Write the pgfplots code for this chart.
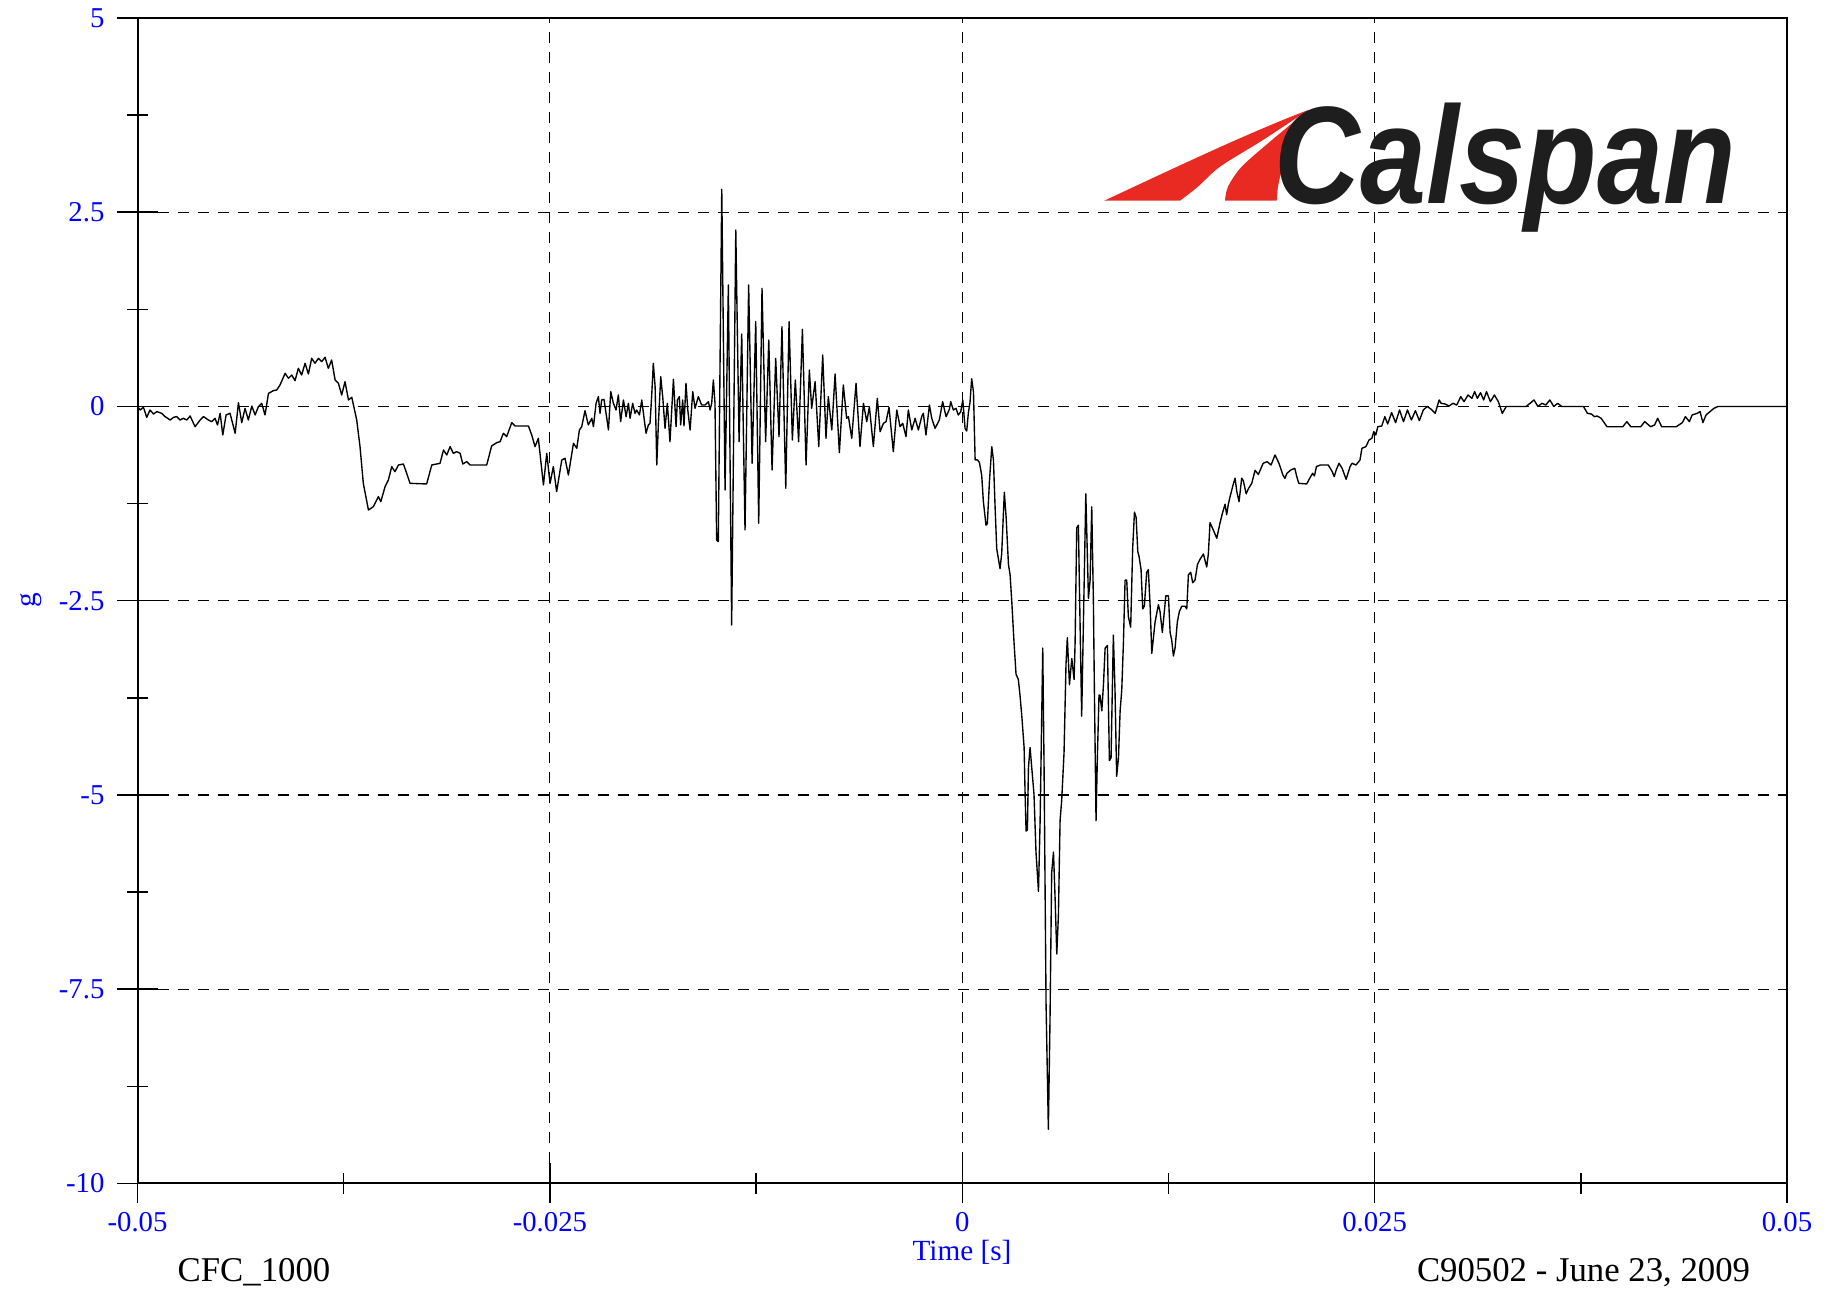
\documentclass[border=0pt]{standalone}
\usepackage{fontspec}
\setmainfont{Liberation Serif}
\newfontfamily\logofont{Liberation Sans}
\usepackage{pgfplots}
\pgfplotsset{compat=1.18}
\usepackage{pgfplotstable}
\definecolor{calred}{RGB}{232,42,34}
\definecolor{calblack}{RGB}{30,30,30}

% time in ms, acceleration in g
\pgfplotstableread{
t g
-50.00 0.00
-49.84 -0.045
-49.64 -0.01
-49.44 -0.14
-49.24 -0.045
-49.03 -0.097
-48.83 -0.066
-48.53 -0.088
-48.33 -0.13
-48.02 -0.174
-47.82 -0.14
-47.62 -0.13
-47.42 -0.174
-47.22 -0.152
-47.01 -0.174
-46.81 -0.122
-46.51 -0.26
-46.20 -0.174
-46.00 -0.13
-45.70 -0.174
-45.50 -0.195
-45.30 -0.152
-45.15 -0.238
-44.99 -0.088
-44.83 -0.367
-44.63 -0.109
-44.39 -0.088
-44.08 -0.345
-43.88 0.049
-43.68 -0.208
-43.48 -0.024
-43.28 -0.174
-43.07 0.006
-42.87 -0.109
-42.67 -0.002
-42.47 0.041
-42.27 -0.109
-42.06 0.169
-41.76 0.204
-41.56 0.212
-41.36 0.277
-41.05 0.427
-40.85 0.363
-40.65 0.405
-40.45 0.332
-40.25 0.491
-40.05 0.405
-39.84 0.556
-39.64 0.418
-39.44 0.62
-39.24 0.556
-39.03 0.62
-38.83 0.577
-38.63 0.633
-38.43 0.491
-38.23 0.598
-38.02 0.341
-37.82 0.298
-37.62 0.148
-37.42 0.32
-37.21 0.084
-37.01 0.118
-36.71 -0.174
-36.51 -0.517
-36.31 -0.989
-36.00 -1.332
-35.70 -1.289
-35.40 -1.16
-35.25 -1.224
-34.99 -1.031
-34.79 -0.946
-34.59 -0.774
-34.39 -0.839
-34.18 -0.753
-33.88 -0.74
-33.68 -0.86
-33.48 -0.989
-32.47 -0.997
-32.16 -0.753
-31.86 -0.74
-31.66 -0.732
-31.45 -0.56
-31.25 -0.624
-31.05 -0.517
-30.85 -0.603
-30.65 -0.581
-30.44 -0.603
-30.28 -0.74
-30.04 -0.71
-29.84 -0.753
-28.83 -0.753
-28.53 -0.508
-28.22 -0.465
-28.02 -0.453
-27.82 -0.345
-27.62 -0.388
-27.31 -0.208
-27.11 -0.251
-26.30 -0.251
-26.10 -0.367
-25.90 -0.517
-25.70 -0.41
-25.39 -1.01
-25.19 -0.603
-24.99 -0.989
-24.79 -0.774
-24.59 -1.096
-24.28 -0.689
-24.08 -0.667
-23.88 -0.882
-23.57 -0.474
-23.37 -0.538
-23.21 -0.302
-23.07 -0.26
-22.87 -0.054
-22.67 -0.238
-22.46 -0.152
-22.36 -0.26
-22.20 0.041
-22.06 0.127
-21.96 -0.088
-21.86 0.084
-21.72 0.092
-21.55 -0.152
-21.45 -0.302
-21.31 0.191
-21.15 0.041
-20.99 -0.045
-20.85 0.148
-20.71 -0.195
-20.54 0.084
-20.38 -0.131
-20.24 0.041
-20.14 -0.152
-19.98 0.041
-19.84 -0.088
-19.74 -0.045
-19.57 -0.109
-19.43 0.084
-19.29 -0.152
-19.17 -0.345
-19.03 -0.238
-18.93 -0.217
-18.83 0.127
-18.73 0.556
-18.62 0.255
-18.52 -0.753
-18.42 -0.217
-18.28 0.384
-18.16 0.127
-18.02 -0.281
-17.88 0.041
-17.72 -0.453
-17.51 0.35
-17.35 -0.26
-17.27 0.084
-17.15 0.127
-17.07 -0.238
-16.95 0.084
-16.87 -0.251
-16.75 0.298
-16.64 -0.045
-16.50 -0.302
-16.34 0.191
-16.20 -0.024
-16.00 0.127
-15.80 0.019
-15.59 0.019
-15.39 0.062
-15.29 -0.045
-15.19 0.041
-15.09 0.341
-14.99 0.041
-14.89 -1.718
-14.79 -1.739
-14.58 2.795
-14.38 -1.075
-14.18 1.564
-13.98 -2.812
-13.73 2.272
-13.53 -0.453
-13.37 0.933
-13.17 -1.589
-12.95 1.564
-12.74 -0.732
-12.52 1.092
-12.34 -1.503
-12.14 1.521
-11.92 -0.453
-11.73 0.856
-11.53 -0.818
-11.31 0.62
-11.11 -0.388
-10.93 1.027
-10.70 -1.053
-10.50 1.092
-10.30 -0.431
-10.12 0.341
-9.92 -0.453
-9.69 0.993
-9.47 -0.753
-9.27 0.47
-9.13 -0.024
-8.92 0.32
-8.70 -0.516
-8.46 0.663
-8.26 -0.41
-8.12 0.127
-7.91 -0.302
-7.71 0.418
-7.45 -0.594
-7.21 0.277
-7.01 -0.152
-6.90 -0.131
-6.70 -0.41
-6.44 0.298
-6.20 -0.516
-5.99 0.041
-5.79 -0.195
-5.63 -0.002
-5.39 -0.516
-5.15 0.105
-4.98 -0.324
-4.78 -0.217
-4.62 -0.195
-4.44 -0.011
-4.18 -0.581
-3.97 -0.045
-3.77 -0.26
-3.61 -0.217
-3.41 -0.388
-3.27 -0.045
-3.06 -0.302
-2.86 -0.152
-2.66 -0.302
-2.46 -0.131
-2.36 -0.088
-2.20 -0.367
-1.99 0.019
-1.85 -0.152
-1.65 -0.281
-1.39 -0.174
-1.19 0.062
-0.98 -0.131
-0.78 -0.036
-0.70 0.062
-0.54 -0.045
-0.38 -0.024
-0.24 -0.11
-0.09 -0.067
0.03 0.084
0.07 -0.013
0.17 -0.283
0.27 -0.316
0.37 -0.081
0.47 0.054
0.57 0.357
0.68 0.188
0.78 -0.687
0.92 -0.687
1.04 -0.72
1.18 -0.888
1.28 -1.225
1.44 -1.528
1.52 -1.508
1.65 -0.956
1.79 -0.518
1.89 -0.687
1.99 -1.292
2.09 -1.831
2.29 -2.087
2.39 -1.898
2.55 -1.104
2.66 -1.427
2.80 -2.033
2.90 -2.167
3.00 -2.504
3.14 -3.042
3.26 -3.446
3.40 -3.514
3.50 -3.715
3.61 -3.985
3.75 -4.389
3.81 -4.994
3.87 -5.465
3.95 -5.452
4.01 -4.658
4.11 -4.389
4.27 -4.792
4.35 -4.994
4.47 -5.735
4.62 -6.240
4.72 -5.331
4.88 -3.110
4.96 -4.658
5.08 -7.687
5.22 -9.302
5.32 -7.888
5.42 -6.004
5.53 -5.735
5.63 -6.340
5.73 -7.047
5.83 -6.542
5.93 -5.331
6.03 -5.062
6.17 -4.456
6.29 -3.312
6.37 -2.975
6.50 -3.581
6.64 -3.244
6.78 -3.514
6.84 -3.042
6.94 -1.562
7.04 -1.528
7.14 -2.773
7.24 -3.985
7.34 -2.840
7.49 -1.124
7.65 -2.470
7.75 -2.235
7.85 -1.292
7.95 -2.504
8.01 -3.648
8.11 -5.331
8.19 -4.523
8.29 -3.715
8.35 -3.715
8.46 -3.917
8.56 -3.581
8.66 -3.110
8.80 -3.076
8.92 -4.557
9.02 -4.523
9.16 -2.942
9.26 -3.648
9.36 -4.759
9.47 -4.523
9.57 -3.917
9.67 -3.648
9.77 -3.042
9.87 -2.235
9.97 -2.235
10.07 -2.706
10.21 -2.840
10.33 -1.831
10.44 -1.360
10.54 -1.427
10.64 -1.864
10.72 -1.932
10.84 -2.100
10.94 -2.605
11.04 -2.571
11.18 -2.134
11.28 -2.100
11.39 -2.571
11.49 -3.177
11.69 -2.773
11.89 -2.551
11.99 -2.639
12.13 -2.908
12.34 -2.437
12.50 -2.437
12.60 -2.908
12.70 -3.009
12.80 -3.211
12.90 -3.110
13.04 -2.773
13.16 -2.639
13.31 -2.571
13.51 -2.571
13.61 -2.605
13.71 -2.167
13.85 -2.134
13.97 -2.268
14.11 -2.235
14.26 -2.033
14.42 -1.965
14.62 -1.898
14.82 -2.066
14.92 -1.898
15.02 -1.494
15.23 -1.595
15.43 -1.696
15.63 -1.494
15.79 -1.360
15.93 -1.258
16.03 -1.393
16.13 -1.258
16.24 -1.158
16.40 -1.023
16.54 -0.922
16.64 -1.090
16.78 -1.225
16.94 -0.922
17.04 -0.956
17.21 -1.124
17.35 -1.057
17.55 -0.989
17.75 -0.821
17.95 -0.875
18.24 -0.731
18.48 -0.71
18.72 -0.753
18.96 -0.624
19.20 -0.731
19.44 -0.882
19.56 -0.925
19.68 -0.86
19.92 -0.817
20.16 -0.796
20.28 -0.903
20.40 -0.989
20.88 -0.997
21.12 -0.903
21.24 -0.86
21.35 -0.894
21.47 -0.774
21.71 -0.753
22.19 -0.753
22.43 -0.839
22.55 -0.903
22.67 -0.817
22.84 -0.731
23.03 -0.796
23.27 -0.937
23.51 -0.774
23.63 -0.731
23.87 -0.753
24.11 -0.689
24.23 -0.538
24.47 -0.517
24.66 -0.431
24.83 -0.41
24.95 -0.324
25.07 -0.367
25.19 -0.26
25.43 -0.251
25.62 -0.131
25.79 -0.225
26.03 -0.079
26.27 -0.208
26.51 -0.045
26.75 -0.195
26.99 -0.045
27.23 -0.174
27.47 -0.054
27.71 -0.182
27.95 -0.045
28.19 0.0
28.43 -0.036
28.67 -0.088
28.91 0.084
29.03 0.041
29.27 0.032
29.51 0.006
29.75 0.041
29.98 0.019
30.22 0.127
30.42 0.062
30.66 0.148
30.90 0.105
31.06 0.191
31.23 0.105
31.42 0.178
31.61 0.084
31.78 0.191
32.02 0.062
32.26 0.148
32.50 0.062
32.74 -0.088
32.98 0
34.18 0
34.42 0.041
34.66 0.084
34.90 0
35.14 0.041
35.38 0.019
35.62 0.084
35.86 0
36.10 0.041
36.34 0
37.66 0
37.90 -0.088
38.14 -0.097
38.33 -0.131
38.49 -0.122
38.73 -0.152
39.09 -0.26
40.05 -0.26
40.29 -0.195
40.53 -0.26
41.13 -0.26
41.37 -0.195
41.73 -0.26
41.97 -0.238
42.16 -0.152
42.40 -0.26
43.29 -0.26
43.65 -0.208
43.84 -0.131
44.08 -0.195
44.25 -0.109
44.56 -0.088
44.73 -0.066
44.90 -0.208
45.09 -0.109
45.33 -0.066
45.57 -0.024
45.81 0
50.00 0
}\trace

\begin{document}
\begin{tikzpicture}[x=1pt,y=1pt]
\useasboundingbox (0,0) rectangle (734,516);
\begin{axis}[
  at={(55pt,42.6pt)}, anchor=south west,
  scale only axis, width=659.8pt, height=466.2pt,
  xmin=-0.05, xmax=0.05, ymin=-10, ymax=5,
  xtick={-0.05,-0.025,0,0.025,0.05},
  xticklabels={-0.05,-0.025,0,0.025,0.05},
  ytick={-10,-7.5,-5,-2.5,0,2.5,5},
  yticklabels={-10,-7.5,-5,-2.5,0,2.5,5},
  minor xtick={-0.0375,-0.0125,0.0125,0.0375},
  minor ytick={-8.75,-6.25,-3.75,-1.25,1.25,3.75},
  scaled x ticks=false, scaled y ticks=false,
  tick align=center, tick pos=left,
  major tick length=16pt, minor tick length=8.3pt,
  every tick/.style={black, line width=0.6pt},
  xmajorgrids, ymajorgrids,
  major grid style={black, line width=0.45pt, dash pattern=on 4.7pt off 3.3pt},
  axis line style={black, line width=0.8pt},
  tick label style={font=\fontsize{11.5}{13}\selectfont, text=blue},
  xticklabel style={yshift=-2.4pt, inner sep=1pt},
  yticklabel style={xshift=-1.7pt},
  clip=false,
]
\addplot[black, line width=0.55pt, line join=round] table[x expr=\thisrow{t}/1000, y=g] {\trace};
\end{axis}

% labels
\node[anchor=base, text=blue, font=\fontsize{11.7}{13}\selectfont, inner sep=0pt] at (384.8,11.6) {Time [s]};
\node[text=blue, font=\fontsize{11.7}{13}\selectfont, rotate=90] at (12.4,275.8) {g};
\node[anchor=base, font=\fontsize{13.9}{16}\selectfont] at (101.6,3.3) {CFC\_1000};
\node[anchor=base, font=\fontsize{13.9}{16}\selectfont] at (633.4,3.3) {C90502 - June 23, 2009};

% logo
\begin{scope}[x=0.4pt, y=-0.4pt, yshift=516pt]
  \fill[calred] (1104.3,200.7) .. controls (1170,170) and (1250,132) .. (1308.3,110)
     -- plot[smooth] coordinates {(1308.3,110) (1263,140) (1220,166.7) (1198,186.7) (1180,200.7)}
     -- cycle;
  \fill[calred] (1225,200.7)
     -- plot[smooth] coordinates {(1225,200.7) (1228,186.7) (1241.7,166.7) (1272,140) (1308.3,110)}
     -- plot[smooth] coordinates {(1308.3,110) (1295,140) (1283,166.7) (1278,186.7) (1276.7,200.7)}
     -- cycle;
  \node[anchor=base west, inner sep=0pt, text=calblack, xscale=0.855,
        font=\logofont\bfseries\itshape\fontsize{55.5}{62}\selectfont] at (1274,203.5) {Calspan};
\end{scope}
\end{tikzpicture}
\end{document}
